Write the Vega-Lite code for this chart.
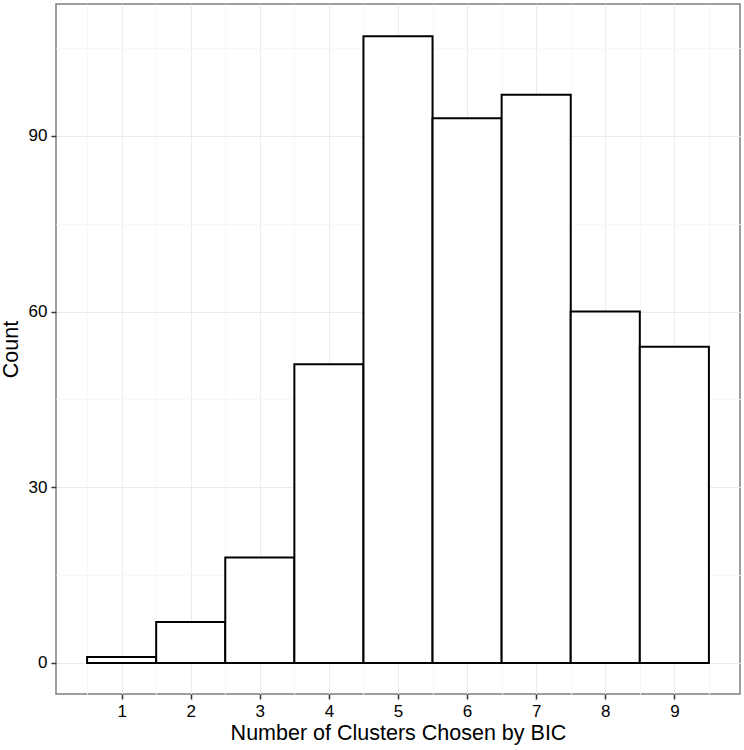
{
  "$schema": "https://vega.github.io/schema/vega-lite/v6.json",
  "width": 684,
  "height": 690,
  "autosize": {"type": "none"},
  "padding": {"left": 56, "top": 4, "right": 4, "bottom": 56},
  "background": "white",
  "config": {
    "view": {"stroke": "#7f7f7f", "strokeWidth": 1.5},
    "font": "Liberation Sans"
  },
  "data": {
    "values": [
      {"k": 1, "start": 0.5, "end": 1.5, "count": 1},
      {"k": 2, "start": 1.5, "end": 2.5, "count": 7},
      {"k": 3, "start": 2.5, "end": 3.5, "count": 18},
      {"k": 4, "start": 3.5, "end": 4.5, "count": 51},
      {"k": 5, "start": 4.5, "end": 5.5, "count": 107},
      {"k": 6, "start": 5.5, "end": 6.5, "count": 93},
      {"k": 7, "start": 6.5, "end": 7.5, "count": 97},
      {"k": 8, "start": 7.5, "end": 8.5, "count": 60},
      {"k": 9, "start": 8.5, "end": 9.5, "count": 54}
    ]
  },
  "mark": {"type": "bar", "fill": "white", "stroke": "black", "strokeWidth": 2},
  "encoding": {
    "x": {
      "field": "start",
      "type": "quantitative",
      "scale": {"domain": [0.05, 9.95], "nice": false, "zero": false},
      "axis": {
        "title": "Number of Clusters Chosen by BIC",
        "values": [0.5, 1, 1.5, 2, 2.5, 3, 3.5, 4, 4.5, 5, 5.5, 6, 6.5, 7, 7.5, 8, 8.5, 9, 9.5],
        "labelExpr": "datum.value % 1 === 0 ? format(datum.value, 'd') : ''",
        "labelOverlap": false,
        "labelFontSize": 17,
        "labelColor": "black",
        "labelPadding": 4,
        "labelFlush": false,
        "tickSize": 5,
        "tickWidth": 1.5,
        "tickColor": "#333333",
        "tickOpacity": {"condition": {"test": "datum.value % 1 !== 0", "value": 0}, "value": 1},
        "gridColor": {"condition": {"test": "datum.value % 1 !== 0", "value": "#f7f7f7"}, "value": "#ebebeb"},
        "gridWidth": 1,
        "domain": false,
        "titleFontSize": 21.5,
        "titleFontWeight": "normal",
        "titleColor": "black",
        "titlePadding": 3
      }
    },
    "x2": {"field": "end"},
    "y": {
      "field": "count",
      "type": "quantitative",
      "scale": {"domain": [-5.3, 112.5], "nice": false, "zero": false},
      "axis": {
        "title": "Count",
        "values": [0, 15, 30, 45, 60, 75, 90, 105],
        "labelExpr": "datum.value % 30 === 0 ? format(datum.value, 'd') : ''",
        "labelOverlap": false,
        "labelFontSize": 17,
        "labelColor": "black",
        "labelPadding": 4,
        "labelFlush": false,
        "tickSize": 5,
        "tickWidth": 1.5,
        "tickColor": "#333333",
        "tickOpacity": {"condition": {"test": "datum.value % 30 !== 0", "value": 0}, "value": 1},
        "gridColor": {"condition": {"test": "datum.value % 30 !== 0", "value": "#f7f7f7"}, "value": "#ebebeb"},
        "gridWidth": 1,
        "domain": false,
        "titleFontSize": 21.5,
        "titleFontWeight": "normal",
        "titleColor": "black",
        "titlePadding": 6
      }
    },
    "y2": {"datum": 0}
  }
}
